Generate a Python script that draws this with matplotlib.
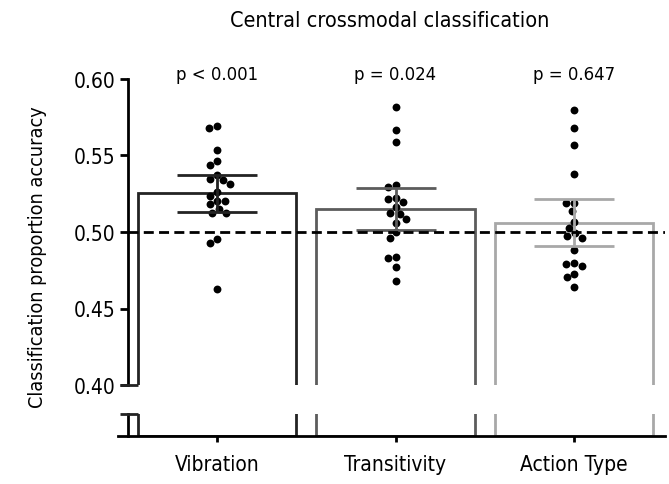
import numpy as np
import matplotlib
matplotlib.use("Agg")
import matplotlib.pyplot as plt

plt.rcParams['font.family'] = ['Liberation Sans Narrow', 'DejaVu Sans']
plt.rcParams['font.stretch'] = 'condensed'

# data
categories = ["Vibration", "Transitivity", "Action Type"]
means = [0.5253, 0.5150, 0.5060]
sems = [0.0120, 0.0136, 0.0153]
p_labels = ["p < 0.001", "p = 0.024", "p = 0.647"]
colors = ["#232323", "#5c5c5c", "#a8a8a8"]

vibration = [0.5695, 0.5680, 0.5536, 0.5466, 0.5438, 0.5346, 0.5314, 0.5340,
             0.5373, 0.5264, 0.5237, 0.5201, 0.5201, 0.5183, 0.5150, 0.5122,
             0.5124, 0.4954, 0.4926, 0.4627]
transitivity = [0.5815, 0.5667, 0.5586, 0.5296, 0.5309, 0.5216, 0.5222, 0.5198,
                0.5161, 0.5124, 0.5118, 0.5085, 0.5059, 0.4998, 0.4959, 0.4828,
                0.4835, 0.4769, 0.4682]
action_type = [0.5797, 0.5678, 0.5569, 0.5379, 0.5190, 0.5188, 0.5139, 0.5067,
               0.5026, 0.4976, 0.4992, 0.4961, 0.4884, 0.4780, 0.4797, 0.4791,
               0.4725, 0.4704, 0.4643]
points = [vibration, transitivity, action_type]

W, H = 669, 485
XMIN, XMAX = -0.555, 2.51
YMIN, YMAX = 0.40, 0.60


def px_rect(x0, y0, x1, y1):
    return [x0 / W, 1 - y1 / H, (x1 - x0) / W, (y1 - y0) / H]


def swarm(vals, diam, ypx_per_unit):
    # simple beeswarm: offsets in pixels, nearest free spot to the centre
    placed = []
    offs = np.zeros(len(vals))
    order = np.argsort(vals)[::-1]
    for i in order:
        y = vals[i] * ypx_per_unit
        cands = [0.0]
        for (xp, yp) in placed:
            dy = abs(y - yp)
            if dy < diam:
                dx = np.sqrt(diam ** 2 - dy ** 2)
                cands += [xp + dx, xp - dx]
        cands.sort(key=lambda c: (abs(c), c))
        for c in cands:
            if all((c - xp) ** 2 + (y - yp) ** 2 >= diam ** 2 - 1e-6 for xp, yp in placed):
                offs[i] = c
                placed.append((c, y))
                break
    return offs


fig = plt.figure(figsize=(6.69, 4.85), dpi=100)
ax = fig.add_axes(px_rect(118, 80, 665, 386))
axb = fig.add_axes(px_rect(118, 415, 665, 437))

x = np.arange(len(categories))
lw = 2.0

for a in (ax, axb):
    a.bar(x, means, width=0.89, fill=False, edgecolor=colors, linewidth=lw, zorder=2)
    a.set_xlim(XMIN, XMAX)
    a.spines['top'].set_visible(False)
    a.spines['right'].set_visible(False)
    a.spines['left'].set_position(('data', -0.5))
    a.spines['left'].set_linewidth(lw)
    a.spines['bottom'].set_linewidth(lw)

ax.set_ylim(YMIN, YMAX)
axb.set_ylim(0, 0.02)

# dots
xpx_per_unit = (665 - 118) / (XMAX - XMIN)
ypx_per_unit = (386 - 80) / (YMAX - YMIN)
for i, vals in enumerate(points):
    offs = swarm(np.array(vals), 8.0, ypx_per_unit) / xpx_per_unit
    ax.scatter(x[i] + offs, vals, s=32, color="black", linewidths=0, zorder=3)

# error bars
for i in range(len(categories)):
    ax.errorbar(x[i], means[i], yerr=sems[i], fmt='none', ecolor=colors[i],
                elinewidth=lw, capsize=29, capthick=lw, zorder=4)

# chance line
ax.plot([-0.5, XMAX], [0.5, 0.5], color="black", lw=2.0, ls=(0, (3.6, 1.9)), zorder=5)

# p values
for i, lab in enumerate(p_labels):
    ax.text(x[i], 0.6033, lab, ha='center', va='center', fontsize=13.2)

# axis styling
ax.spines['bottom'].set_visible(False)
ax.set_xticks([])
ax.set_yticks([0.40, 0.45, 0.50, 0.55, 0.60])
ax.set_yticklabels(["0.40", "0.45", "0.50", "0.55", "0.60"])
ax.tick_params(axis='y', length=6, width=lw, labelsize=15, pad=3)

axb.set_yticks([])
axb.set_xticks(x)
axb.set_xticklabels(categories)
axb.tick_params(axis='x', length=4, width=lw, labelsize=15, pad=9)

# break caps next to the y axis
ax.plot([-0.543, -0.445], [YMIN, YMIN], color=colors[0], lw=lw, clip_on=False,
        solid_capstyle='butt', zorder=6)
axb.plot([-0.543, -0.445], [0.02, 0.02], color=colors[0], lw=lw, clip_on=False,
         solid_capstyle='butt', zorder=6)

fig.text(390 / W, 1 - 21 / H, "Central crossmodal classification", ha='center',
         va='center', fontsize=15.5)
fig.text(38 / W, 1 - 257 / H, "Classification proportion accuracy", ha='center',
         va='center', rotation=90, fontsize=14.2)

fig.savefig("out.png", dpi=100)
